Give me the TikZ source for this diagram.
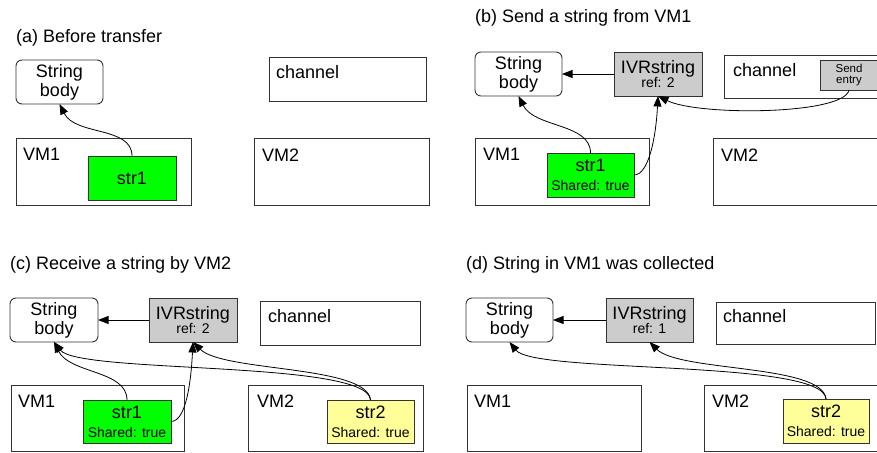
\documentclass[tikz,border=0pt]{standalone}
\usepackage{fontspec}
\setmainfont{Liberation Sans}
\usetikzlibrary{arrows.meta}
\definecolor{strgreen}{HTML}{00FF00}
\definecolor{ivrgray}{HTML}{CCCCCC}
\definecolor{stryellow}{HTML}{FFFF99}
\newcommand\bigf{\fontsize{18}{19}\selectfont}
\newcommand\midf{\fontsize{14}{15}\selectfont}
\newcommand\tinyf{\fontsize{11.5}{11}\selectfont}
\begin{document}
\begin{tikzpicture}[x=1pt,y=-1pt,
  box/.style={draw=black!80, line width=0.9pt, inner sep=0pt, outer sep=0pt, anchor=north west},
  sbody/.style={box, rounded corners=6pt, fill=white, align=center, font=\bigf},
  ivr/.style={box, fill=ivrgray, align=center, minimum width=88pt, minimum height=44pt},
  strbox/.style={box, align=center, font=\bigf},
  lbl/.style={anchor=base west, inner sep=0pt, font=\bigf},
  ttl/.style={anchor=base west, inner sep=0pt, font=\bigf},
  arr/.style={-{Triangle[length=10.5pt,width=8pt]}, line width=0.8pt, black}]
\useasboundingbox (0,0) rectangle (877,452);
\clip (0,0) rectangle (877,452);

% ---------------- (a)
\node[ttl] (ta) at (16,43) {(a) Before transfer};
\node[sbody, minimum width=87pt, minimum height=44pt] (sbA) at (16,60) {String\\body};
\node[box, minimum width=157pt, minimum height=44pt] (chA) at (269,57) {};
\node[lbl] (chAl) at (276,78) {channel};
\node[box, minimum width=175pt, minimum height=67pt] (vm1A) at (16,138) {};
\node[lbl] (vm1Al) at (23,160) {VM1};
\node[box, minimum width=175pt, minimum height=67pt] (vm2A) at (254,138) {};
\node[lbl] (vm2Al) at (262,161) {VM2};
\node[strbox, fill=strgreen, minimum width=88pt, minimum height=44pt] (s1A) at (88,156) {str1};
\draw[arr] (s1A.north) .. controls +(0,-30) and +(16,32) .. (sbA.south);

% ---------------- (b)
\node[ttl] (tb) at (475,23) {(b) Send a string from VM1};
\node[sbody, minimum width=87pt, minimum height=44pt] (sbB) at (475,52) {String\\body};
\node[ivr] (ivrB) at (614,52) {\bigf IVRstring\\\midf ref: 2};
\node[box, minimum width=180pt, minimum height=43pt] (chB) at (724,55) {};
\node[lbl] (chBl) at (733,76) {channel};
\node[box, fill=ivrgray, align=center, minimum width=58pt, minimum height=30pt, font=\tinyf] (seB) at (820,60) {Send\\entry};
\node[box, minimum width=174pt, minimum height=67pt] (vm1B) at (475,138) {};
\node[lbl] (vm1Bl) at (483,160) {VM1};
\node[box, minimum width=190pt, minimum height=67pt] (vm2B) at (713,138) {};
\node[lbl] (vm2Bl) at (721,161) {VM2};
\node[strbox, fill=strgreen, minimum width=87pt, minimum height=44pt] (s1B) at (547,153) {str1\\\midf Shared: true};
\draw[arr] (ivrB.west) -- (sbB.east);
\draw[arr] (s1B.north) .. controls +(0,-30) and +(16,32) .. (sbB.south);
\draw[arr] (s1B.east) .. controls +(15,0) and +(-2,40) .. (ivrB.south);
\draw[arr] (seB.south) .. controls +(-5,25) and +(40,20) .. (ivrB.south);

% ---------------- (c)
\node[ttl] (tc) at (10,269) {(c) Receive a string by VM2};
\node[sbody, minimum width=88pt, minimum height=44pt] (sbC) at (10,298) {String\\body};
\node[ivr] (ivrC) at (149,298) {\bigf IVRstring\\\midf ref: 2};
\node[box, minimum width=160pt, minimum height=44pt] (chC) at (260,301) {};
\node[lbl] (chCl) at (268,322) {channel};
\node[box, minimum width=173pt, minimum height=66pt] (vm1C) at (11,385) {};
\node[lbl] (vm1Cl) at (18,407) {VM1};
\node[box, minimum width=175pt, minimum height=66pt] (vm2C) at (248,385) {};
\node[lbl] (vm2Cl) at (257,407) {VM2};
\node[strbox, fill=strgreen, minimum width=88pt, minimum height=43pt] (s1C) at (83,400) {str1\\\midf Shared: true};
\node[strbox, fill=stryellow, minimum width=87pt, minimum height=43pt] (s2C) at (327,400) {str2\\\midf Shared: true};
\draw[arr] (ivrC.west) -- (sbC.east);
\draw[arr] (s1C.north) .. controls +(0,-30) and +(16,32) .. (sbC.south);
\draw[arr] (s1C.east) .. controls +(15,0) and +(-2,40) .. (ivrC.south);
\draw[arr] (s2C.north) .. controls +(-3,-35) and +(30,30) .. (ivrC.south);
\draw[arr] (s2C.north) .. controls +(-2,-40) and +(25,32) .. (sbC.south);

% ---------------- (d)
\node[ttl] (td) at (466,269) {(d) String in VM1 was collected};
\node[sbody, minimum width=87pt, minimum height=44pt] (sbD) at (466,298) {String\\body};
\node[ivr, minimum width=87pt] (ivrD) at (606,298) {\bigf IVRstring\\\midf ref: 1};
\node[box, minimum width=159pt, minimum height=42pt] (chD) at (716,302) {};
\node[lbl] (chDl) at (723,322) {channel};
\node[box, minimum width=174pt, minimum height=66pt] (vm1D) at (467,385) {};
\node[lbl] (vm1Dl) at (474,407) {VM1};
\node[box, minimum width=190pt, minimum height=66pt] (vm2D) at (704,385) {};
\node[lbl] (vm2Dl) at (712,407) {VM2};
\node[strbox, fill=stryellow, minimum width=86pt, minimum height=44pt] (s2D) at (783,399) {str2\\\midf Shared: true};
\draw[arr] (ivrD.west) -- (sbD.east);
\draw[arr] (s2D.north) .. controls +(-3,-35) and +(30,30) .. (ivrD.south);
\draw[arr] (s2D.north) .. controls +(-2,-40) and +(25,32) .. (sbD.south);
\end{tikzpicture}
\end{document}
